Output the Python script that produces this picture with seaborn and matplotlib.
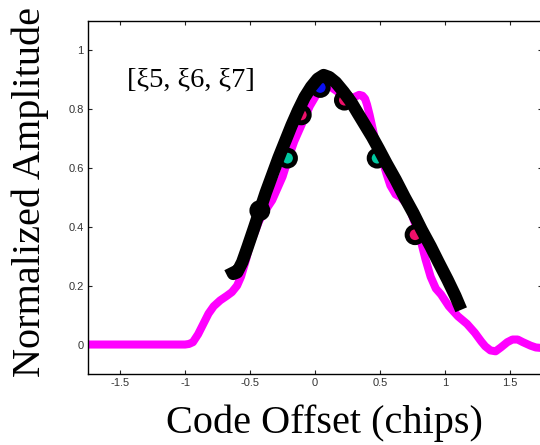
import numpy as np
import pandas as pd
import matplotlib
matplotlib.use("Agg")
import matplotlib.pyplot as plt
import seaborn as sns

# ---- data ----
mag_x = [-1.75, -1.0, -0.97, -0.94, -0.90, -0.86, -0.82, -0.78, -0.73, -0.68, -0.64, -0.60,
         -0.57, -0.53, -0.50, -0.465, -0.43, -0.39, -0.33, -0.29, -0.25, -0.20, -0.16, -0.12,
         -0.08, -0.04, 0.0, 0.04, 0.08, 0.12, 0.17, 0.21, 0.25, 0.28, 0.31, 0.34, 0.365, 0.385,
         0.40, 0.42, 0.44, 0.46, 0.49, 0.52, 0.55, 0.58, 0.62, 0.66, 0.70, 0.73, 0.77, 0.81,
         0.85, 0.89, 0.93, 0.97, 1.03, 1.10, 1.17, 1.23, 1.28, 1.31, 1.35, 1.39, 1.43, 1.48,
         1.52, 1.56, 1.60, 1.66, 1.70, 1.75]
mag_y = [0.0, 0.0, 0.002, 0.008, 0.035, 0.07, 0.105, 0.13, 0.15, 0.165, 0.178, 0.20,
         0.23, 0.29, 0.34, 0.38, 0.42, 0.45, 0.49, 0.53, 0.57, 0.64, 0.69, 0.73,
         0.77, 0.81, 0.84, 0.87, 0.887, 0.875, 0.86, 0.845, 0.832, 0.833, 0.842, 0.848, 0.845, 0.835,
         0.815, 0.78, 0.74, 0.70, 0.665, 0.625, 0.58, 0.54, 0.51, 0.50, 0.48, 0.46, 0.41, 0.36,
         0.29, 0.23, 0.19, 0.17, 0.13, 0.096, 0.07, 0.04, 0.01, -0.006, -0.02, -0.023, -0.01, 0.008,
         0.017, 0.017, 0.008, -0.004, -0.01, -0.012]

fit_x = [-0.655, -0.63, -0.60, -0.56, -0.52, -0.47, -0.425, -0.38, -0.33, -0.28, -0.23, -0.18,
         -0.13, -0.08, -0.03, 0.02, 0.066, 0.11, 0.16, 0.22, 0.28, 0.33, 0.385, 0.44, 0.49,
         0.55, 0.62, 0.69, 0.757, 0.82, 0.89, 0.95, 1.02, 1.08, 1.125]
fit_y = [0.262, 0.240, 0.245, 0.28, 0.33, 0.395, 0.455, 0.515, 0.575, 0.635, 0.69, 0.745,
         0.795, 0.84, 0.875, 0.902, 0.915, 0.908, 0.89, 0.858, 0.822, 0.785, 0.745, 0.705, 0.665,
         0.615, 0.56, 0.50, 0.446, 0.39, 0.333, 0.28, 0.22, 0.165, 0.118]

pt_x = [-0.425, -0.212, -0.106, 0.04, 0.226, 0.478, 0.77]
pt_y = [0.455, 0.633, 0.78, 0.873, 0.83, 0.633, 0.373]
pt_kind = ["k", "teal", "crimson", "blue", "crimson", "teal", "crimson"]

x_ticks = [-1.5, -1, -0.5, 0, 0.5, 1, 1.5]
x_tick_labels = ["-1.5", "-1", "-0.5", "0", "0.5", "1", "1.5"]
y_ticks = [0, 0.2, 0.4, 0.6, 0.8, 1]
y_tick_labels = ["0", "0.2", "0.4", "0.6", "0.8", "1"]

palette = {"k": "#000000", "teal": "#00c8a0", "crimson": "#f0106a", "blue": "#0a10f0"}

sns.set_theme(style="white")
plt.rcParams["font.family"] = ["Liberation Sans", "DejaVu Sans"]

fig = plt.figure(figsize=(5.4, 4.45), dpi=100)
ax = fig.add_axes([0.1624, 0.1596, 0.842, 0.794])

mag_df = pd.DataFrame({"x": mag_x, "y": mag_y})
fit_df = pd.DataFrame({"x": fit_x, "y": fit_y})
pt_df = pd.DataFrame({"x": pt_x, "y": pt_y, "kind": pt_kind})

sns.lineplot(data=mag_df, x="x", y="y", sort=False, color="#ff00ff", linewidth=5.8,
             ax=ax, zorder=2, solid_capstyle="round", solid_joinstyle="round")
sns.scatterplot(data=pt_df, x="x", y="y", hue="kind", palette=palette, s=130,
                edgecolor="black", linewidth=3.6, ax=ax, zorder=3, legend=False)
sns.lineplot(data=fit_df, x="x", y="y", sort=False, color="black", linewidth=9,
             ax=ax, zorder=4, solid_capstyle="butt", solid_joinstyle="round")

ax.set_xlim(-1.75, 1.75)
ax.set_ylim(-0.1, 1.1)
ax.set_xticks(x_ticks)
ax.set_xticklabels(x_tick_labels)
ax.set_yticks(y_ticks)
ax.set_yticklabels(y_tick_labels)
ax.tick_params(direction="in", length=3, width=0.8, colors="#222222", labelsize=8,
               top=True, right=True, bottom=True, left=True, pad=3)
for lab in ax.get_xticklabels() + ax.get_yticklabels():
    lab.set_color("#333333")
for s in ax.spines.values():
    s.set_visible(True)
    s.set_color("black")
    s.set_linewidth(1.0)
ax.set_xlabel("")
ax.set_ylabel("")
ax.set_facecolor("white")

serif = ["Liberation Serif", "DejaVu Serif"]
fig.text(0.600, 0.028, "Code Offset (chips)", ha="center", va="baseline",
         fontsize=29, family=serif, color="black")
fig.text(0.056, 0.153, "Normalized Amplitude", rotation=90, ha="center", va="bottom",
         fontsize=29, family=serif, color="black")
ax.text(-1.45, 0.898, "[ξ5, ξ6, ξ7]", ha="left", va="center", fontsize=20.5,
        family=serif, color="black")

fig.savefig("out.png", dpi=100)
